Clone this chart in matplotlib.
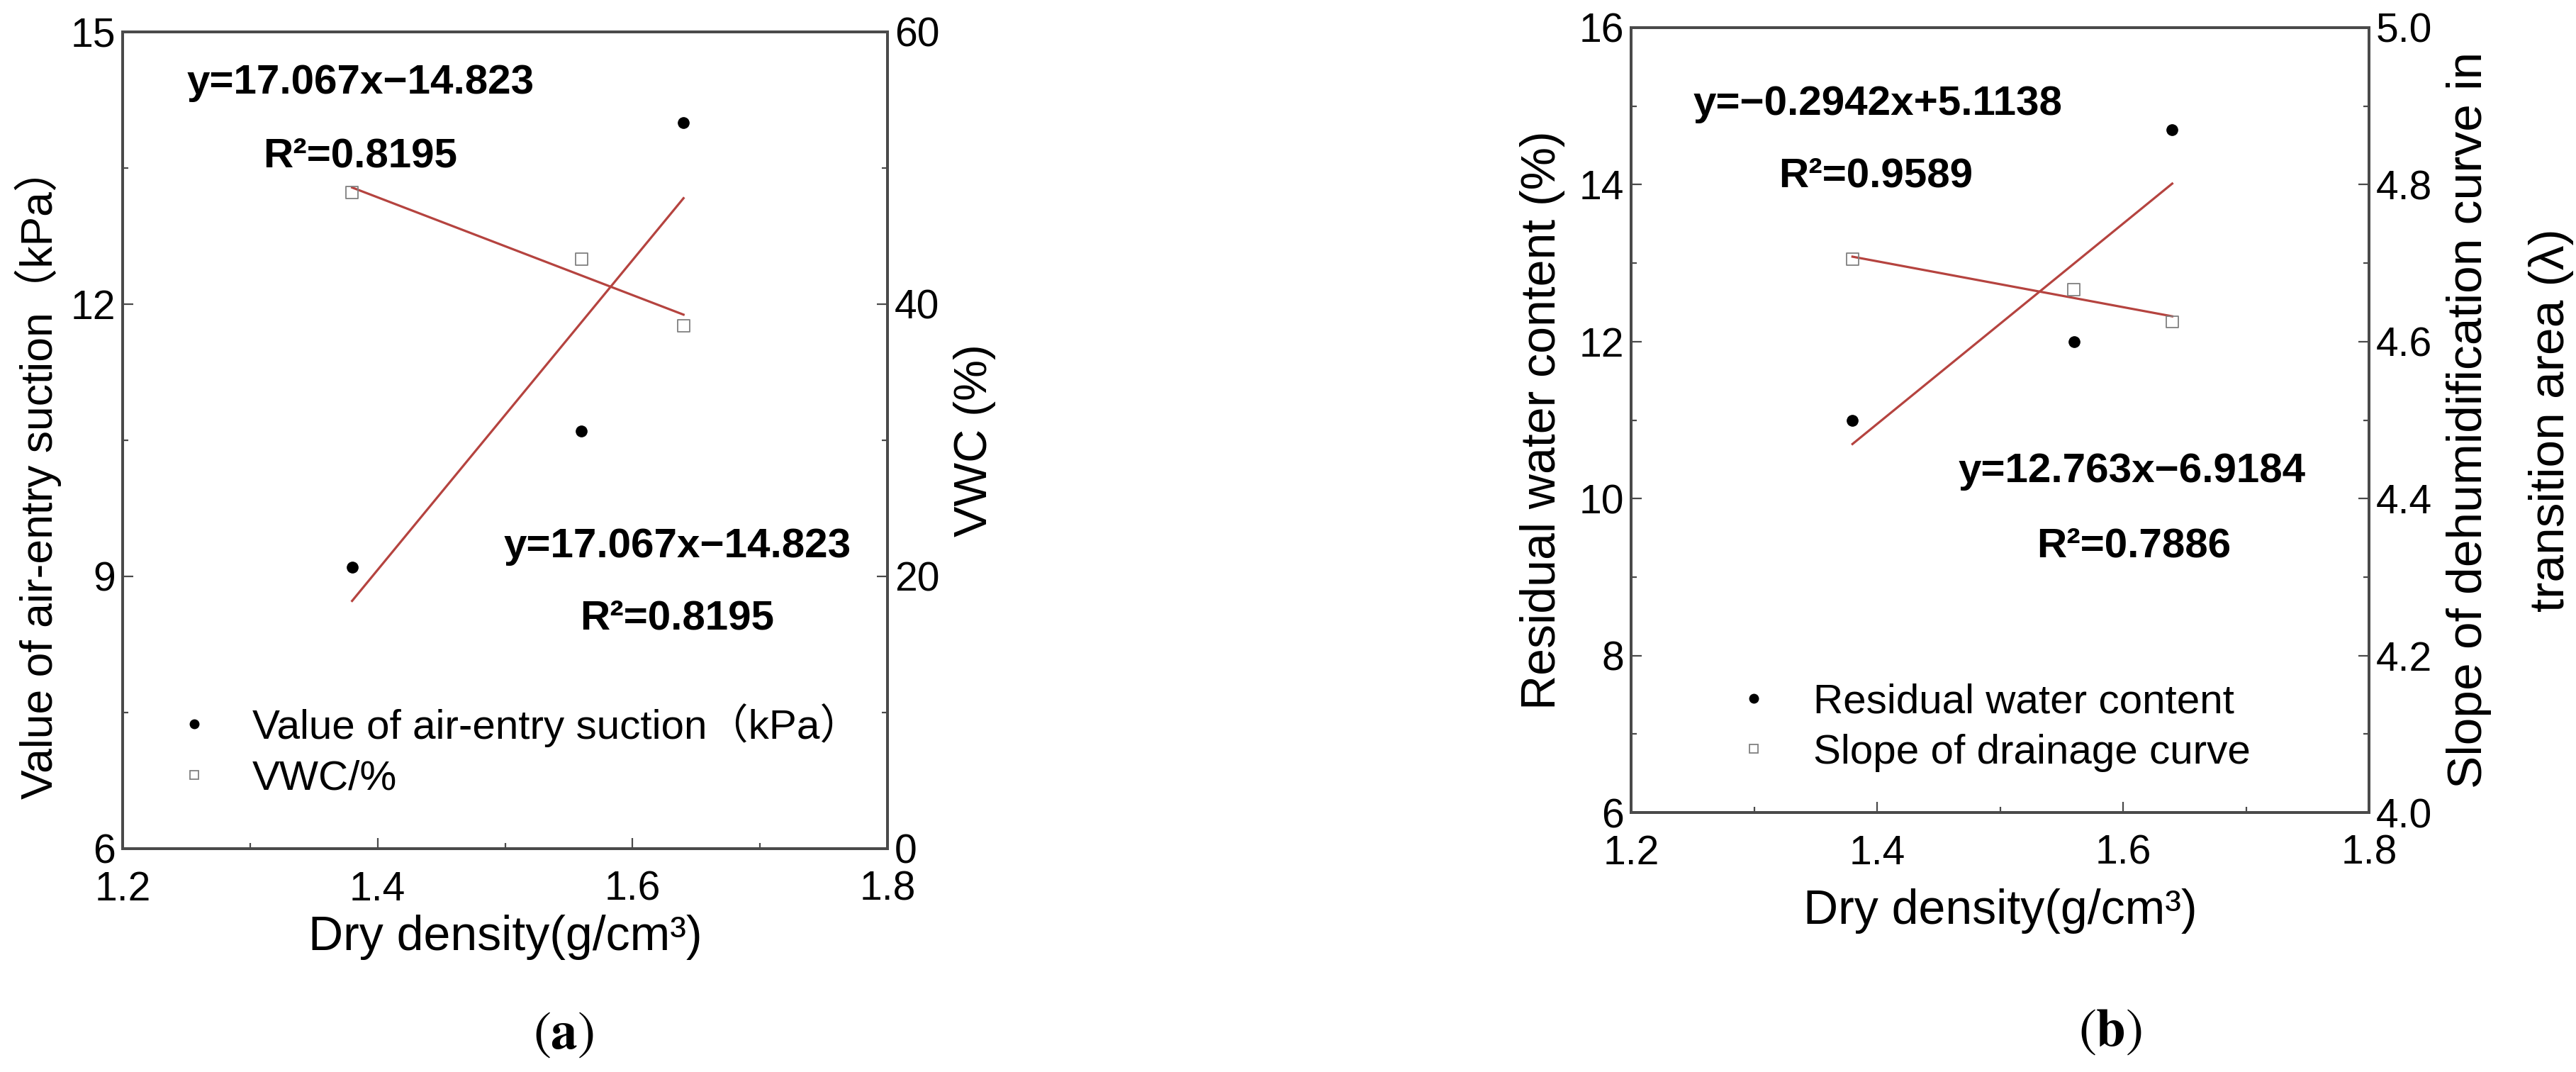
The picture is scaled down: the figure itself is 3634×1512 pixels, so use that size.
import numpy as np
import matplotlib
matplotlib.use("Agg")
import matplotlib.pyplot as plt
from matplotlib.ticker import MultipleLocator, FormatStrFormatter
from matplotlib.lines import Line2D

plt.rcParams['font.family'] = ['Liberation Sans', 'Noto Sans CJK SC', 'DejaVu Sans']
plt.rcParams['mathtext.fontset'] = 'stix'

# ---------------- data ----------------
dry_density = [1.38, 1.56, 1.64]

air_entry_suction = [9.1, 10.6, 14.0]      # kPa (left axis, panel a)
vwc = [48.2, 43.3, 38.4]                   # % (right axis, panel a)

residual_water = [11.0, 12.0, 14.7]        # % (left axis, panel b)
drainage_slope = [4.705, 4.666, 4.625]     # lambda (right axis, panel b)

a_eq_top = "y=17.067x\u221214.823"
a_r2_top = "R\u00b2=0.8195"
a_eq_bot = "y=17.067x\u221214.823"
a_r2_bot = "R\u00b2=0.8195"
b_eq_top = "y=\u22120.2942x+5.1138"
b_r2_top = "R\u00b2=0.9589"
b_eq_bot = "y=12.763x\u22126.9184"
b_r2_bot = "R\u00b2=0.7886"

a_ylabel_left = "Value of air-entry suction\uff08kPa\uff09"
a_ylabel_right = "VWC (%)"
a_leg = ["Value of air-entry suction\uff08kPa\uff09", "VWC/%"]
b_ylabel_left = "Residual water content (%)"
b_ylabel_right = "Slope of dehumidification curve in\ntransition area (\u03bb)"
b_leg = ["Residual water content", "Slope of drainage curve"]
xlabel = "Dry density(g/cm\u00b3)"

# ---------------- style ----------------
W, H = 3634, 1512
DPI = 100
fig = plt.figure(figsize=(W / DPI, H / DPI), dpi=DPI)
fig.patch.set_facecolor('white')

SPINE_C = '#4a4a4a'
LINE_C = '#b5433f'
TICK_FS = 41
XLABEL_FS = 49
ANN_FS = 42
LEG_FS = 42


def px_axes(x0, x1, ytop, ybot):
    return [x0 / W, 1 - ybot / H, (x1 - x0) / W, (ybot - ytop) / H]


def style_axes(ax):
    for s in ax.spines.values():
        s.set_linewidth(2.8)
        s.set_color(SPINE_C)
    ax.tick_params(which='both', direction='in', color=SPINE_C, width=1.6,
                   labelsize=TICK_FS)
    ax.tick_params(which='major', length=11)
    ax.tick_params(which='minor', length=5.5)
    ax.tick_params(axis='x', pad=22)
    ax.tick_params(axis='y', pad=7)


def fit_line(ax, x, y):
    k, b = np.polyfit(x, y, 1)
    xs = np.array([min(x), max(x)])
    ax.plot(xs, k * xs + b, color=LINE_C, lw=2.3, zorder=2)


def dot_handle():
    return Line2D([], [], ls='none', marker='o', ms=9, mfc='black', mec='black')


def sq_handle():
    return Line2D([], [], ls='none', marker='s', ms=9, mfc='none', mec='#808080', mew=1.3)


# ---------------- panel (a) ----------------
axa = fig.add_axes(px_axes(173, 1252, 45, 1197))
axa2 = axa.twinx()
style_axes(axa)
style_axes(axa2)

axa.scatter(dry_density, air_entry_suction, s=11 ** 2, color='black', zorder=3)
fit_line(axa, dry_density, air_entry_suction)
axa2.scatter(dry_density, vwc, s=12 ** 2, marker='s', facecolor='none',
             edgecolor='#808080', linewidth=1.3, zorder=3)
fit_line(axa2, dry_density, vwc)

axa.set_xlim(1.2, 1.8)
axa.set_ylim(6, 15)
axa2.set_ylim(0, 60)
axa.xaxis.set_major_locator(MultipleLocator(0.2))
axa.xaxis.set_minor_locator(MultipleLocator(0.1))
axa.xaxis.set_major_formatter(FormatStrFormatter('%.1f'))
axa.yaxis.set_major_locator(MultipleLocator(3))
axa.yaxis.set_minor_locator(MultipleLocator(1.5))
axa2.yaxis.set_major_locator(MultipleLocator(20))
axa2.yaxis.set_minor_locator(MultipleLocator(10))

axa.set_xlabel(xlabel, fontsize=XLABEL_FS, labelpad=6)
axa.set_ylabel(a_ylabel_left, fontsize=45)
axa.yaxis.set_label_coords(-0.08, 0.46)
axa2.set_ylabel(a_ylabel_right, fontsize=47, labelpad=14)

axa2.text(0.311, 0.9375, a_eq_top, transform=axa.transAxes, fontsize=ANN_FS,
          fontweight='bold', ha='center', va='center')
axa2.text(0.311, 0.848, a_r2_top, transform=axa.transAxes, fontsize=ANN_FS,
          fontweight='bold', ha='center', va='center')
axa2.text(0.725, 0.370, a_eq_bot, transform=axa.transAxes, fontsize=ANN_FS,
          fontweight='bold', ha='center', va='center')
axa2.text(0.725, 0.282, a_r2_bot, transform=axa.transAxes, fontsize=ANN_FS,
          fontweight='bold', ha='center', va='center')

axa2.legend([dot_handle(), sq_handle()], a_leg, loc='upper left',
            bbox_to_anchor=(0.04, 0.178), frameon=False, borderpad=0,
            borderaxespad=0, handlelength=2.0, handletextpad=0.4,
            labelspacing=0.3, fontsize=LEG_FS)

# ---------------- panel (b) ----------------
axb = fig.add_axes(px_axes(2301, 3342, 39, 1146))
axb2 = axb.twinx()
style_axes(axb)
style_axes(axb2)

axb.scatter(dry_density, residual_water, s=11 ** 2, color='black', zorder=3)
fit_line(axb, dry_density, residual_water)
axb2.scatter(dry_density, drainage_slope, s=12 ** 2, marker='s', facecolor='none',
             edgecolor='#808080', linewidth=1.3, zorder=3)
fit_line(axb2, dry_density, drainage_slope)

axb.set_xlim(1.2, 1.8)
axb.set_ylim(6, 16)
axb2.set_ylim(4.0, 5.0)
axb.xaxis.set_major_locator(MultipleLocator(0.2))
axb.xaxis.set_minor_locator(MultipleLocator(0.1))
axb.xaxis.set_major_formatter(FormatStrFormatter('%.1f'))
axb.yaxis.set_major_locator(MultipleLocator(2))
axb.yaxis.set_minor_locator(MultipleLocator(1))
axb2.yaxis.set_major_locator(MultipleLocator(0.2))
axb2.yaxis.set_minor_locator(MultipleLocator(0.1))
axb2.yaxis.set_major_formatter(FormatStrFormatter('%.1f'))

axb.set_xlabel(xlabel, fontsize=XLABEL_FS, labelpad=16)
axb.set_ylabel(b_ylabel_left, fontsize=49, labelpad=14)
axb2.set_ylabel(b_ylabel_right, fontsize=50, labelpad=14,
                linespacing=2.05)

axb2.text(0.334, 0.902, b_eq_top, transform=axb.transAxes, fontsize=ANN_FS,
          fontweight='bold', ha='center', va='center')
axb2.text(0.332, 0.811, b_r2_top, transform=axb.transAxes, fontsize=ANN_FS,
          fontweight='bold', ha='center', va='center')
axb2.text(0.679, 0.4345, b_eq_bot, transform=axb.transAxes, fontsize=ANN_FS,
          fontweight='bold', ha='center', va='center')
axb2.text(0.681, 0.339, b_r2_bot, transform=axb.transAxes, fontsize=ANN_FS,
          fontweight='bold', ha='center', va='center')

axb2.legend([dot_handle(), sq_handle()], b_leg, loc='upper left',
            bbox_to_anchor=(0.11, 0.165), frameon=False, borderpad=0,
            borderaxespad=0, handlelength=2.0, handletextpad=0.45,
            labelspacing=0.3, fontsize=LEG_FS)

# ---------------- panel tags ----------------
fig.text(795 / W, 1 - 1460 / H, r'$(\mathbf{a})$', fontsize=54, ha='center', va='center')
fig.text(2977 / W, 1 - 1456 / H, r'$(\mathbf{b})$', fontsize=54, ha='center', va='center')

fig.savefig('out.png', dpi=DPI, facecolor='white')
